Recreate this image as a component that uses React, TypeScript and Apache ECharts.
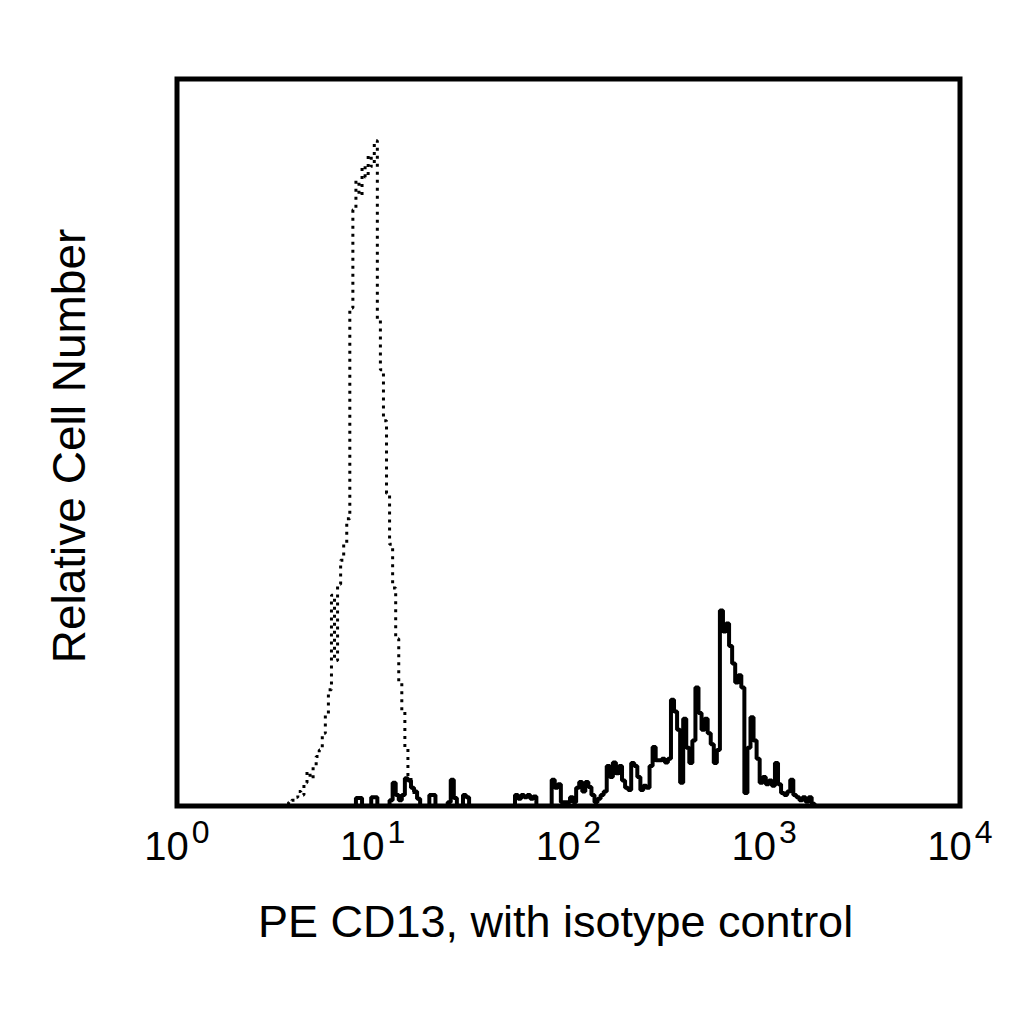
import React, { useEffect, useRef } from 'react';
import * as echarts from 'echarts';

// channels: 64 per decade, channel 0 = 10^0
const CHANNELS_PER_DECADE = 64;

// isotype control (dotted), starting at channel 36
const isoStart = 36;
const isoCounts = [
  0.3, 0.5, 0.8, 1.2, 2.0, 1.5, 3.2, 4.7, 3.8, 5.5, 6.8, 7.7, 10.0, 12.5, 16.0,
  29.0, 20.0, 30.5, 33.8, 36.0, 39.5, 68.5, 82.0, 86.0, 84.0, 88.0, 86.5, 89.5,
  88.0, 91.5, 67.0, 60.0, 53.0, 43.0, 36.0, 30.0, 23.0, 17.0, 13.0, 8.0, 4.0,
  2.5, 1.5, 1.0, 0.5, 0,
];

// PE CD13 stained (solid), starting at channel 58
const cd13Start = 58;
const cd13Counts = [
  0, 1.1, 1.1, 0, 0, 0, 1.2, 1.2, 0, 0, 0, 0, 0.8, 3.2, 1.5, 0.8, 1.5, 3.8, 3.5,
  2.5, 2.0, 1.0, 0, 0, 0, 1.5, 1.5, 0, 0, 0, 0, 0.5, 3.6, 1.1, 0, 0, 1.5, 1.2,
  0, 0, 0, 0, 0, 0, 0, 0, 0, 0, 0, 0, 0, 0, 0,
  1.5, 1.0, 1.5, 1.2, 1.5, 1.0, 1.3, 0, 0, 0, 0, 0, 3.6, 2.5, 3.0, 0.5, 0.5,
  0.5, 1.2, 0.5, 2.5, 3.3, 2.0, 3.3, 2.6, 1.5, 0.5, 1.0, 1.5, 2.0, 5.5, 4.0,
  6.0, 4.5, 5.5, 3.5, 2.5, 2.2, 5.9, 5.5, 4.0, 2.2, 2.8, 2.5, 5.5, 8.1, 6.3,
  6.3, 6.5, 6.0, 6.5, 14.6, 13.0, 10.5, 3.2, 12.0, 8.0, 5.9, 9.0, 16.3, 12.8,
  10.5, 12.0, 10.0, 8.5, 5.9, 7.7, 26.9, 24.0, 25.1, 22.0, 19.6, 17.0, 18.0,
  16.3, 1.8, 8.0, 12.2, 9.0, 6.5, 3.2, 4.0, 3.0, 3.5, 2.8, 5.9, 3.0, 1.8, 1.5,
  2.0, 3.6, 1.5, 1.2, 0.8, 1.2, 0.6, 1.2, 0.3, 0,
];

const xTitle = 'PE CD13, with isotype control';
const yTitle = 'Relative Cell Number';
const FONT = '"Liberation Sans", Arial, Helvetica, sans-serif';

const toPoints = (start: number, counts: number[]) =>
  counts.map((c, i) => [Math.pow(10, (start + i) / CHANNELS_PER_DECADE), c]);

export default function App() {
  const chartRef = useRef<HTMLDivElement>(null);

  useEffect(() => {
    if (!chartRef.current) return;
    const chart = echarts.init(chartRef.current, undefined, { renderer: 'svg' });

    const option = {
      animation: false,
      backgroundColor: '#fff',
      textStyle: { fontFamily: FONT },
      grid: {
        left: 177,
        right: 64,
        top: 79,
        bottom: 218,
        show: true,
        borderColor: '#000',
        borderWidth: 5,
        backgroundColor: 'transparent',
      },
      xAxis: {
        type: 'log',
        logBase: 10,
        min: 1,
        max: 10000,
        interval: 1,
        axisLine: { show: false },
        axisTick: { show: false },
        splitLine: { show: false },
        axisLabel: {
          margin: 10,
          formatter: (v: number) => `{b|10}{s|${Math.round(Math.log10(v))}}`,
          rich: {
            b: {
              fontSize: 40, color: '#000', fontFamily: FONT,
              verticalAlign: 'bottom', lineHeight: 50,
            },
            s: {
              fontSize: 32, color: '#000', fontFamily: FONT,
              verticalAlign: 'top', lineHeight: 32, padding: [0, 0, 0, 3],
            },
          },
        },
        name: xTitle,
        nameLocation: 'middle',
        nameGap: 93,
        nameTextStyle: { fontSize: 45, color: '#000', fontFamily: FONT, padding: [0, 26, 0, 0] },
      },
      yAxis: {
        type: 'value',
        min: 0,
        max: 100,
        axisLine: { show: false },
        axisTick: { show: false },
        axisLabel: { show: false },
        splitLine: { show: false },
        name: yTitle,
        nameLocation: 'middle',
        nameRotate: 90,
        nameGap: 85,
        nameTextStyle: { fontSize: 46, color: '#000', fontFamily: FONT, padding: [0, 7, 0, 0] },
      },
      series: [
        {
          name: 'Isotype control',
          type: 'line',
          step: 'middle',
          showSymbol: false,
          data: toPoints(isoStart, isoCounts),
          lineStyle: { color: '#000', width: 3, type: [3, 5] },
          z: 2,
        },
        {
          name: 'PE CD13',
          type: 'line',
          step: 'middle',
          showSymbol: false,
          data: toPoints(cd13Start, cd13Counts),
          lineStyle: { color: '#000', width: 4 },
          z: 3,
        },
      ],
    };

    chart.setOption(option);
    return () => chart.dispose();
  }, []);

  return (
    <div
      ref={chartRef}
      style={{ position: 'absolute', left: 0, top: 0, width: 1024, height: 1024 }}
    />
  );
}
